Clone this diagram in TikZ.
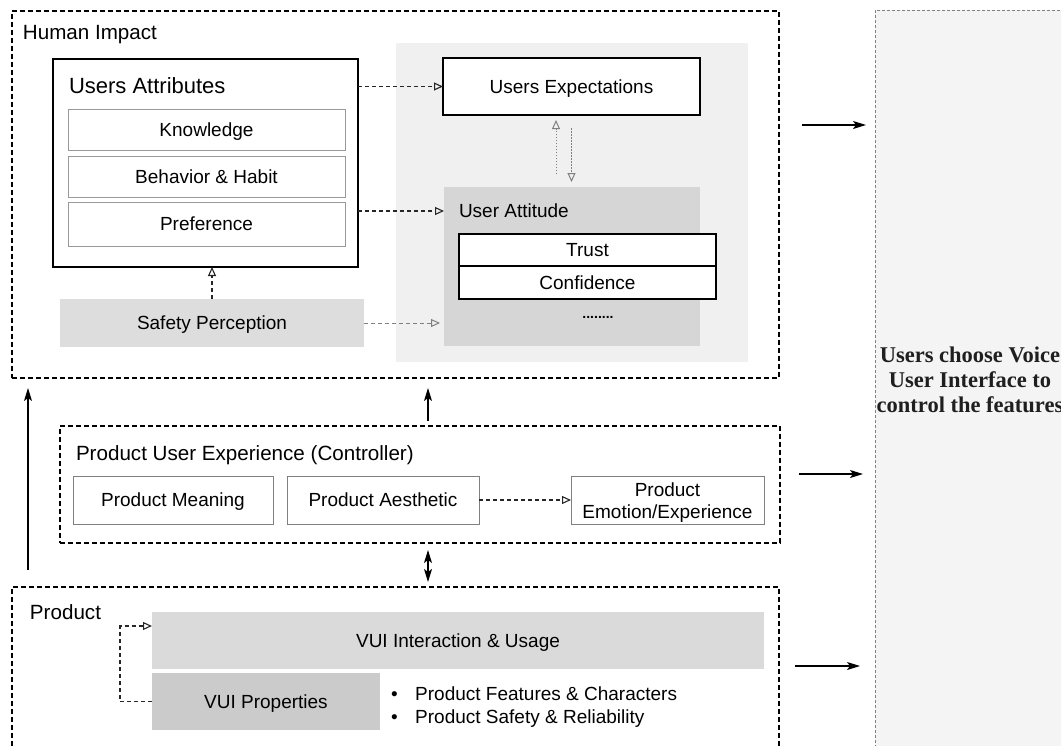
\documentclass[tikz,border=0pt]{standalone}
\usepackage{fontspec}
\setmainfont{Liberation Sans}
\newfontfamily\tnrfont{Liberation Serif}
\usetikzlibrary{arrows.meta,calc}
\newcommand\myfs{\fontsize{19}{23}\selectfont}
\newcommand\myhd{\fontsize{20.6}{24}\selectfont}
\definecolor{regiongray}{HTML}{F0F0F0}
\definecolor{attgray}{HTML}{D6D6D6}
\definecolor{safegray}{HTML}{DDDDDD}
\definecolor{vuiigray}{HTML}{DADADA}
\definecolor{vuipgray}{HTML}{CBCBCB}
\definecolor{rightgray}{HTML}{F4F4F4}
\definecolor{bordergray}{HTML}{999999}
\tikzset{
  rbox/.style={rectangle, inner sep=0pt, outer sep=0pt, anchor=north west},
  capc/.style={text height=#1, text depth=0pt},
  capc/.default=13.6pt,
  dbox/.style={rbox, draw=black, line width=1.2pt, dash pattern=on 5pt off 3pt},
  solidbox/.style={rbox, draw=black, line width=1.5pt, fill=white},
  greybox/.style={rbox, draw=bordergray, line width=1pt, fill=white, font=\myfs, align=center},
  fillbox/.style={rbox, font=\myfs, align=center, capc},
  lbl/.style={anchor=west, inner sep=0pt, outer sep=0pt},
  opentip/.style={-{Triangle[open,length=9pt,width=8pt]}},
  dasharrow/.style={opentip, line width=1.1pt, dash pattern=on 4pt off 3pt, draw=black!85},
  greydash/.style={opentip, line width=1pt, dash pattern=on 4pt off 3pt, draw=gray},
  dotarrow/.style={opentip, line width=1pt, dash pattern=on 1.5pt off 1.5pt, draw=gray},
  solidarrow/.style={-{Stealth[length=13pt,width=8pt,inset=3pt]}, line width=1.3pt},
  twoarrow/.style={{Stealth[length=13pt,width=8pt,inset=3pt]}-{Stealth[length=13pt,width=8pt,inset=3pt]}, line width=1.3pt},
}
\begin{document}
\begin{tikzpicture}[x=1pt,y=-1pt]
\useasboundingbox (0,0) rectangle (1061,745);
% right box
\node[rbox, fill=rightgray, draw=gray, line width=1pt, dash pattern=on 3pt off 2pt, minimum width=230pt, minimum height=760pt] (rb) at (875,10) {};
\node[font=\tnrfont\bfseries\fontsize{22.5}{25}\selectfont, align=center, text=black!88] (rbt) at (970,380) {Users choose Voice\\User Interface to\\control the features};

% Human impact
\node[dbox, minimum width=767pt, minimum height=367pt] (hi) at (12,11) {};
\node[lbl, capc=14.75pt, font=\myhd] (hil) at (23,32) {Human Impact};
\node[rbox, fill=regiongray, minimum width=352pt, minimum height=319pt] (gr) at (396,43) {};

\node[solidbox, minimum width=305pt, minimum height=208pt] (ua) at (53,59) {};
\node[lbl, capc=15.75pt, font=\fontsize{22}{26}\selectfont] (ual) at (69,86) {Users Attributes};
\node[greybox, capc, minimum width=277pt, minimum height=41pt] (kn) at (68,109) {Knowledge};
\node[greybox, capc, minimum width=277pt, minimum height=41pt] (bh) at (68,156) {Behavior \& Habit};
\node[greybox, capc, minimum width=277pt, minimum height=44pt] (pf) at (68,202) {Preference};
\node[fillbox, fill=safegray, minimum width=304pt, minimum height=48pt] (sp) at (60,299) {Safety Perception};

\node[rbox, capc, draw=black, line width=1.4pt, fill=white, font=\myfs, minimum width=257pt, minimum height=57pt] (ue) at (443,58) {Users Expectations};
\node[rbox, fill=attgray, minimum width=256pt, minimum height=159pt] (uatt) at (444,187) {};
\node[lbl, capc, font=\myfs] (uattl) at (459,211) {User Attitude};
\node[rbox, capc, draw=black, line width=1.3pt, fill=white, font=\myfs, minimum width=257pt, minimum height=32pt] (tr) at (459,234) {Trust};
\node[rbox, capc, draw=black, line width=1.3pt, fill=white, font=\myfs, minimum width=257pt, minimum height=33pt] (cf) at (459,266) {Confidence};
\node[font=\bfseries\fontsize{14}{16}\selectfont, inner sep=0pt] (dots) at (598,317) {........};

\draw[dasharrow] (ua.east |- ue.west) -- (ue.west);
\draw[dasharrow] (ua.east |- uattl.west) -- (uatt.west |- uattl.west);
\draw[greydash, shorten >=4pt] (sp.east) -- (uatt.west |- sp.east);
\draw[dasharrow] (sp.north) -- (sp.north |- ua.south);
\draw[dotarrow, shorten <=13pt, shorten >=5pt] ([xshift=-16pt]uatt.north) -- ([xshift=-16pt]uatt.north |- ue.south);
\draw[dotarrow, shorten <=13pt, shorten >=5pt] (ue.south) -- (ue.south |- uatt.north);

% Product user experience
\node[dbox, minimum width=720pt, minimum height=117pt] (pux) at (60,426) {};
\node[lbl, capc=14.75pt, font=\myhd] (puxl) at (76,453) {Product User Experience (Controller)};
\node[greybox, capc, draw=gray, minimum width=200pt, minimum height=48pt] (pm) at (73,476) {Product Meaning};
\node[greybox, capc, draw=gray, minimum width=192pt, minimum height=48pt] (pa) at (287,476) {Product Aesthetic};
\node[greybox, draw=gray, minimum width=193pt, minimum height=48pt, font=\fontsize{19}{22}\selectfont] (pe) at (571,476) {\strut\\[-19pt]Product\\Emotion/Experience};
\draw[dasharrow] (pa.east) -- (pe.west);

% Product
\node[dbox, minimum width=767pt, minimum height=200pt] (prod) at (12,587) {};
\node[lbl, capc=14.75pt, font=\myhd] (prodl) at (30,612) {Product};
\node[fillbox, fill=vuiigray, minimum width=612pt, minimum height=57pt] (vuii) at (152,612) {VUI Interaction \& Usage};
\node[fillbox, fill=vuipgray, minimum width=228pt, minimum height=57pt] (vuip) at (152,673) {VUI Properties};
\node[anchor=north west, inner sep=0pt, align=left, font=\fontsize{19}{23}\selectfont] (bul) at (391,687)
  {\makebox[24pt][l]{\textbullet}Product Features \& Characters\\\makebox[24pt][l]{\textbullet}Product Safety \& Reliability};
\coordinate (c3) at (120,626);
\draw[dasharrow] (vuip.west) -| (c3) -- (vuii.west |- c3);

% vertical connectors
\coordinate (c1) at (428,0);
\coordinate (c2) at (28,0);
\draw[solidarrow, shorten <=5pt, shorten >=10pt] (pux.north -| c1) -- (hi.south -| c1);
\draw[twoarrow, shorten <=7pt, shorten >=5pt] (pux.south -| c1) -- (prod.north -| c1);
\draw[solidarrow, shorten <=17pt, shorten >=10pt] (prod.north -| c2) -- (hi.south -| c2);

% horizontal connectors
\coordinate (a1) at (0,125);
\coordinate (a2) at (0,474);
\coordinate (a3) at (0,666);
\draw[solidarrow, shorten <=23pt, shorten >=9pt] (hi.east |- a1) -- (rb.west |- a1);
\draw[solidarrow, shorten <=19pt, shorten >=12pt] (pux.east |- a2) -- (rb.west |- a2);
\draw[solidarrow, shorten <=16pt, shorten >=15pt] (prod.east |- a3) -- (rb.west |- a3);
\end{tikzpicture}
\end{document}
